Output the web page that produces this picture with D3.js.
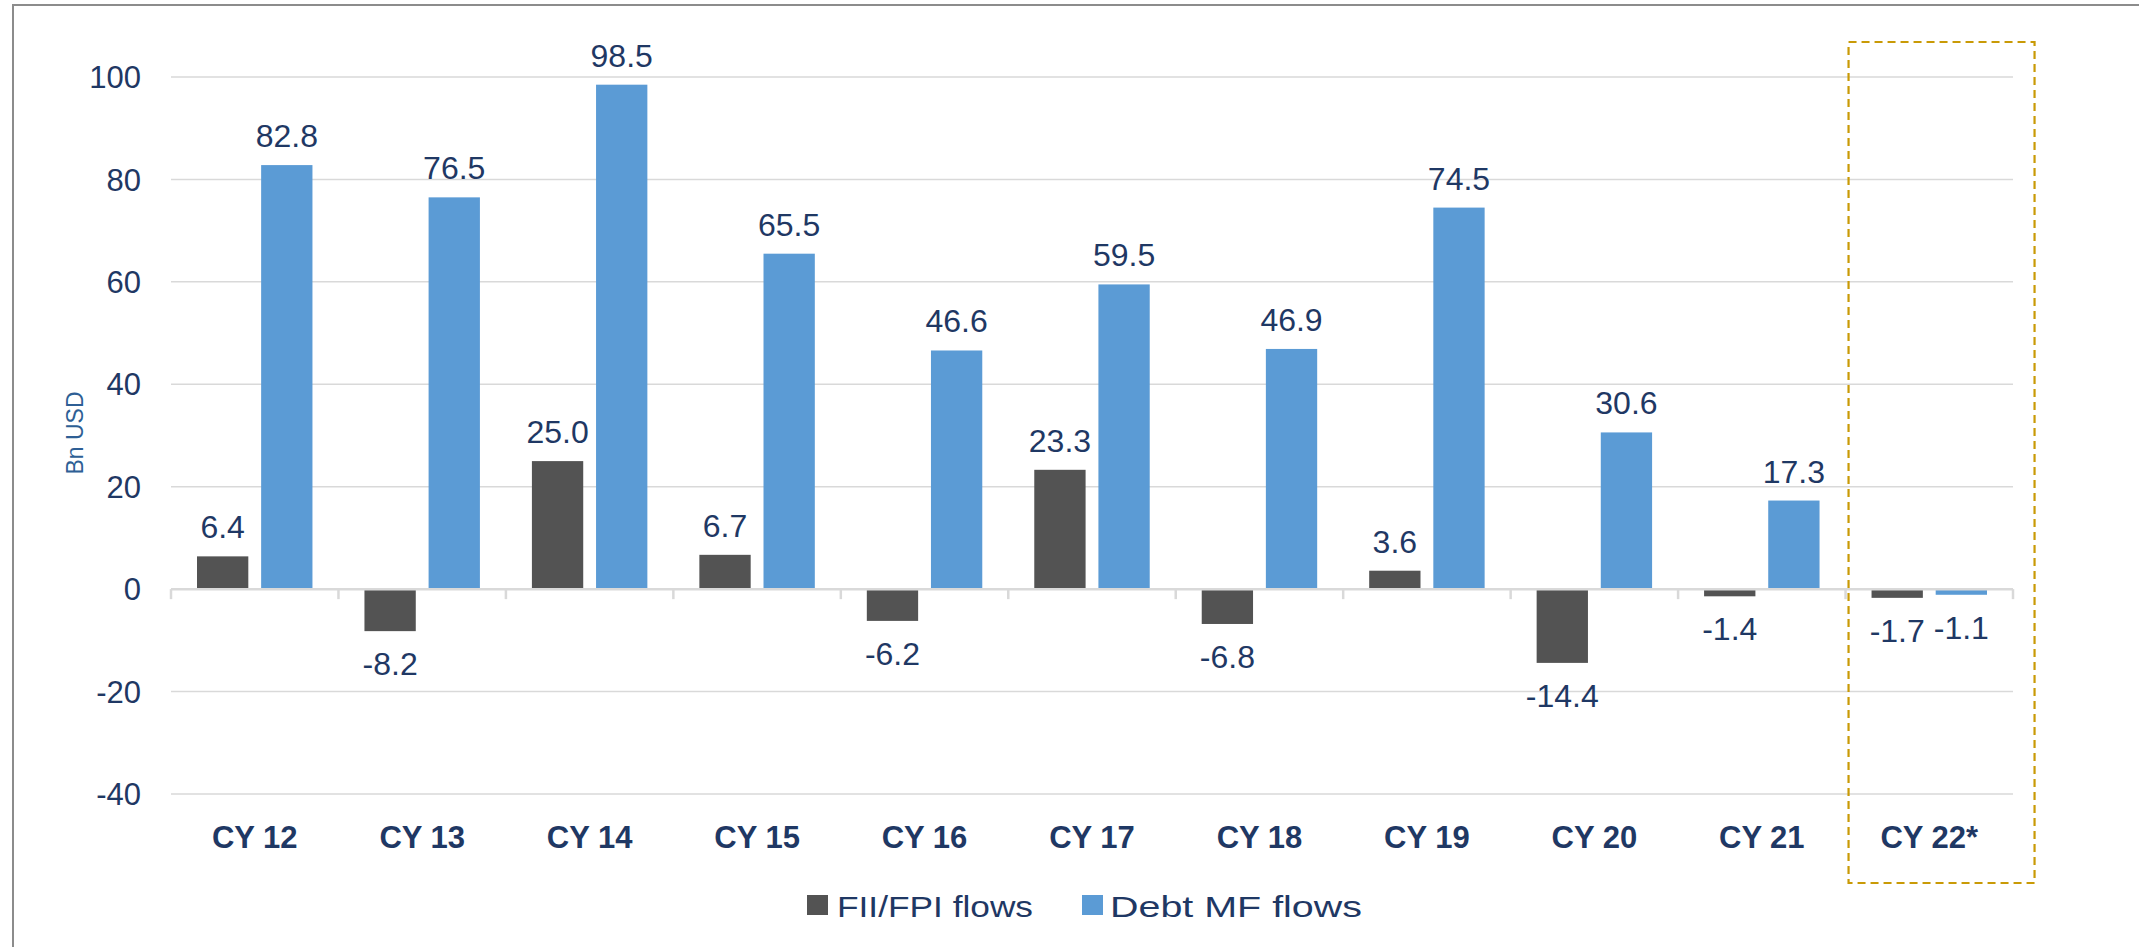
<!DOCTYPE html>
<html>
<head>
<meta charset="utf-8">
<script src="https://cdn.jsdelivr.net/npm/d3@7"></script>
<style>
  html, body { margin: 0; padding: 0; background: #ffffff; }
  svg { display: block; }
  text { font-family: "Liberation Sans", Arial, sans-serif; }
</style>
</head>
<body>
<svg id="chart" width="2139" height="947"></svg>
<script>
const categories = ["CY 12", "CY 13", "CY 14", "CY 15", "CY 16", "CY 17", "CY 18", "CY 19", "CY 20", "CY 21", "CY 22*"];
const seriesNames = ["FII/FPI flows", "Debt MF flows"];
const fiiFlows = [6.4, -8.2, 25.0, 6.7, -6.2, 23.3, -6.8, 3.6, -14.4, -1.4, -1.7];
const debtMfFlows = [82.8, 76.5, 98.5, 65.5, 46.6, 59.5, 46.9, 74.5, 30.6, 17.3, -1.1];
const yTicks = [-40, -20, 0, 20, 40, 60, 80, 100];
const highlighted = "CY 22*";

const seriesValues = [fiiFlows, debtMfFlows];
const colors = ["#535353", "#5B9BD5"];
const navy = "#1F3864";

const svg = d3.select("#chart");

// outer frame (left and top edges visible)
svg.append("path")
  .attr("d", "M13,947 L13,5 L2139,5")
  .attr("fill", "none")
  .attr("stroke", "#8c8c8c")
  .attr("stroke-width", 2);

const x = d3.scaleBand().domain(categories).range([171, 2013]).paddingInner(0).paddingOuter(0);
const xs = d3.scaleBand().domain(seriesNames).range([26, x.bandwidth() - 26]).paddingInner(0.2);
const y = d3.scaleLinear().domain([-40, 100]).range([794, 77]);

// gridlines
svg.append("g").selectAll("line")
  .data(yTicks.filter(d => d !== 0))
  .join("line")
  .attr("x1", 171).attr("x2", 2013)
  .attr("y1", d => y(d)).attr("y2", d => y(d))
  .attr("stroke", "#d9d9d9").attr("stroke-width", 1.5);

// y tick labels
svg.append("g").selectAll("text")
  .data(yTicks)
  .join("text")
  .attr("x", 141)
  .attr("y", d => y(d))
  .attr("dy", "0.36em")
  .attr("text-anchor", "end")
  .attr("font-size", 31)
  .attr("fill", navy)
  .text(d => d);

// y axis title
svg.append("text")
  .attr("transform", `translate(83,433) rotate(-90)`)
  .attr("text-anchor", "middle")
  .attr("font-size", 23)
  .attr("fill", "#2E5F95")
  .text("Bn USD");

// bars
const barData = [];
categories.forEach((c, i) => {
  seriesNames.forEach((s, j) => {
    barData.push({ cat: c, series: s, idx: j, value: seriesValues[j][i] });
  });
});

const bars = svg.append("g");
bars.selectAll("rect")
  .data(barData)
  .join("rect")
  .attr("x", d => x(d.cat) + xs(d.series))
  .attr("width", xs.bandwidth())
  .attr("y", d => Math.min(y(d.value), y(0)))
  .attr("height", d => Math.abs(y(d.value) - y(0)))
  .attr("fill", d => colors[d.idx]);

// zero axis line with tick marks
const axisG = svg.append("g");
axisG.append("line")
  .attr("x1", 171).attr("x2", 2013)
  .attr("y1", y(0)).attr("y2", y(0))
  .attr("stroke", "#d9d9d9").attr("stroke-width", 2.5);
const boundaries = categories.map(c => x(c)).concat([x(categories[categories.length - 1]) + x.bandwidth()]);
axisG.selectAll("line.tick")
  .data(boundaries)
  .join("line")
  .attr("class", "tick")
  .attr("x1", d => d).attr("x2", d => d)
  .attr("y1", y(0)).attr("y2", y(0) + 10)
  .attr("stroke", "#d9d9d9").attr("stroke-width", 2.5);

// data labels
svg.append("g").selectAll("text")
  .data(barData)
  .join("text")
  .attr("x", d => x(d.cat) + xs(d.series) + xs.bandwidth() / 2)
  .attr("y", d => d.value >= 0 ? y(d.value) - 18 : y(d.value) + 44)
  .attr("text-anchor", "middle")
  .attr("font-size", 32)
  .attr("fill", navy)
  .text(d => d.value.toFixed(1));

// category labels
svg.append("g").selectAll("text")
  .data(categories)
  .join("text")
  .attr("x", d => x(d) + x.bandwidth() / 2)
  .attr("y", 848)
  .attr("text-anchor", "middle")
  .attr("font-size", 31)
  .attr("font-weight", "bold")
  .attr("fill", navy)
  .text(d => d);

// highlight box around the last category
svg.append("rect")
  .attr("x", x(highlighted) + 3)
  .attr("y", 42)
  .attr("width", 186)
  .attr("height", 841)
  .attr("fill", "none")
  .attr("stroke", "#C99A06")
  .attr("stroke-width", 2.2)
  .attr("stroke-dasharray", "8,5");

// legend
const legendPos = [{ sx: 807, tx: 837, w: 196 }, { sx: 1082, tx: 1110, w: 252 }];
const legend = svg.append("g");
seriesNames.forEach((s, j) => {
  legend.append("rect")
    .attr("x", legendPos[j].sx).attr("y", 895)
    .attr("width", 21).attr("height", 20)
    .attr("fill", colors[j]);
  legend.append("text")
    .attr("x", legendPos[j].tx).attr("y", 917)
    .attr("font-size", 30)
    .attr("textLength", legendPos[j].w)
    .attr("lengthAdjust", "spacingAndGlyphs")
    .attr("fill", navy)
    .text(s);
});
</script>
</body>
</html>
